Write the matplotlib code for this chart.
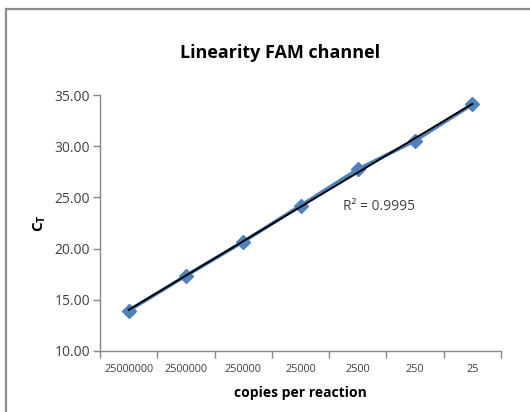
import matplotlib
matplotlib.use("Agg")
import matplotlib.pyplot as plt
import numpy as np
from matplotlib.lines import Line2D

plt.rcParams['font.family'] = ['Open Sans', 'DejaVu Sans']
plt.rcParams['mathtext.fontset'] = 'custom'
plt.rcParams['mathtext.rm'] = 'Open Sans'
plt.rcParams['mathtext.bf'] = 'Open Sans:bold'

categories = ["25000000", "2500000", "250000", "25000", "2500", "250", "25"]
ct_values = [13.94, 17.35, 20.67, 24.19, 27.74, 30.54, 34.09]
y_ticks = [10, 15, 20, 25, 30, 35]
r2_text = "R² = 0.9995"

W, H = 530, 412
fig = plt.figure(figsize=(W / 100, H / 100), dpi=100)
ax = fig.add_axes([100 / W, 1 - 351 / H, 401 / W, (351 - 95) / H])

x = np.arange(1, len(categories) + 1)
ax.plot(x, ct_values, color='#4F81BD', lw=2.6, marker='D', markersize=7,
        markerfacecolor='#4F81BD', markeredgecolor='#4F81BD', zorder=3)

coef = np.polyfit(x, ct_values, 1)
xt = np.array([x[0], x[-1]])
ax.plot(xt, np.polyval(coef, xt), color='black', lw=1.4, zorder=4)

ax.set_xlim(0.5, len(categories) + 0.5)
ax.set_ylim(10, 35)
ax.set_yticks(y_ticks)
ax.set_yticklabels([f"{v:.2f}" for v in y_ticks], fontsize=10, color='#404040')
ax.set_xticks(x)
ax.set_xticklabels(categories, fontsize=7.8, color='#404040')
ax.set_xticks(np.arange(0.5, len(categories) + 1, 1), minor=True)
ax.tick_params(axis='x', which='major', length=0, pad=9)
ax.tick_params(axis='x', which='minor', length=5, color='#868686', width=1)
ax.tick_params(axis='y', length=5, color='#868686', width=1, pad=2)

for s in ['top', 'right']:
    ax.spines[s].set_visible(False)
for s in ['left', 'bottom']:
    ax.spines[s].set_color('#868686')
    ax.spines[s].set_linewidth(1)

ax.set_title("Linearity FAM channel", fontsize=13, fontweight='bold', pad=27, x=0.45)
ax.set_xlabel("copies per reaction", fontsize=10, fontweight='bold', labelpad=8)
ax.set_ylabel(r"$\mathbf{C_T}$", fontsize=11, labelpad=5)

ax.text(343 / W, 1 - 206 / H, r2_text, transform=fig.transFigure, fontsize=10,
        color='#404040', va='center', ha='left')

# chart-area border (left and top visible)
fig.add_artist(Line2D([6 / W, 6 / W], [0, 1 - 8.5 / H], color='#8c8c8c', lw=1.6,
                      transform=fig.transFigure))
fig.add_artist(Line2D([6 / W, 1], [1 - 8.5 / H, 1 - 8.5 / H], color='#8c8c8c', lw=1.6,
                      transform=fig.transFigure))

fig.savefig("out.png", dpi=100)
